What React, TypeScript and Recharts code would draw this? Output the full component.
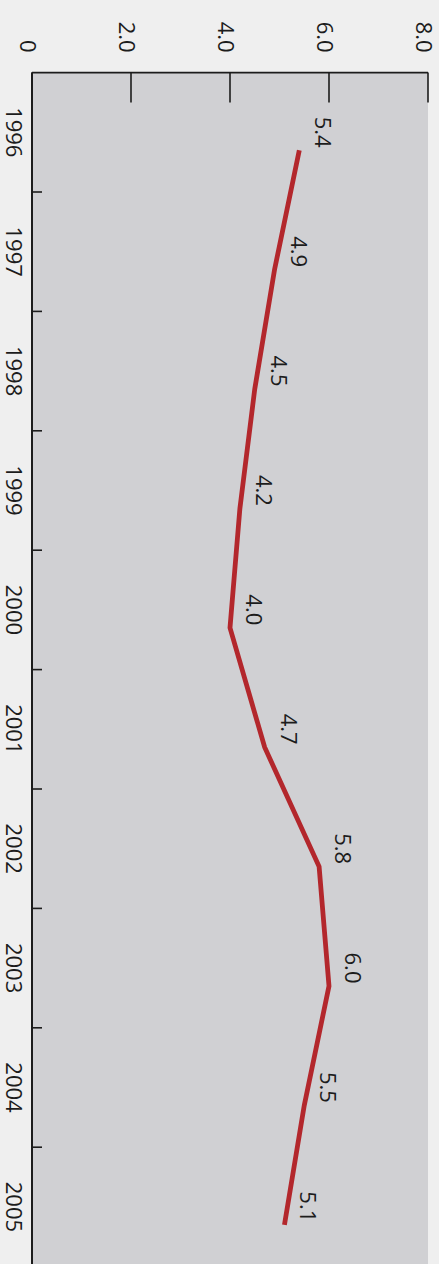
import { LineChart, Line, XAxis, YAxis, CartesianGrid, LabelList } from "recharts";

const YEARS = [1996, 1997, 1998, 1999, 2000, 2001, 2002, 2003, 2004, 2005];
const RATES = [5.4, 4.9, 4.5, 4.2, 4.0, 4.7, 5.8, 6.0, 5.5, 5.1];
const VALUE_TICKS = [0, 2, 4, 6, 8];
const VALUE_TICK_LABELS = ["0", "2.0", "4.0", "6.0", "8.0"];

const data = YEARS.map((year, i) => ({ year, rate: RATES[i] }));

// chart is laid out unrotated, then turned 90deg clockwise
const W = 1270;
const H = 439;
const BAND_HALF = 59.7;
const FONT = "'Open Sans', sans-serif";
const INK = "#1c1c1c";

function YearTick(props: any) {
  const { x, y, payload } = props;
  return (
    <g>
      <line x1={x + BAND_HALF} y1={y} x2={x + BAND_HALF} y2={y - 10} stroke={INK} strokeWidth={1.6} />
      <text x={x} y={y + 17} textAnchor="middle" dominantBaseline="central" fontFamily={FONT} fontSize={22} fill={INK}>
        {payload.value}
      </text>
    </g>
  );
}

function ValueTick(props: any) {
  const { x, y, index } = props;
  return (
    <g>
      <line x1={x} y1={y} x2={x + 30} y2={y} stroke={INK} strokeWidth={1.6} />
      <text x={x - 20} y={y + 3} textAnchor="end" dominantBaseline="central" fontFamily={FONT} fontSize={22} fill={INK}>
        {VALUE_TICK_LABELS[index]}
      </text>
    </g>
  );
}

function RateLabel(props: any) {
  const x = props.x ?? props.viewBox?.x;
  const y = props.y ?? props.viewBox?.y;
  return (
    <text x={x - 18} y={y - 25} textAnchor="middle" dominantBaseline="central" fontFamily={FONT} fontSize={22} fill={INK}>
      {Number(props.value).toFixed(1)}
    </text>
  );
}

export default function App() {
  return (
    <div style={{ position: "fixed", left: 0, top: 0, width: 439, height: 1264, overflow: "hidden", background: "#efefef" }}>
      <div
        style={{
          position: "absolute",
          left: 0,
          top: 0,
          width: W,
          height: H,
          transformOrigin: "0 0",
          transform: `translateX(${H}px) rotate(90deg)`,
        }}
      >
        <LineChart width={W} height={H} data={data} margin={{ top: 11, right: 3.4, bottom: 0, left: 12.6 }}>
          <CartesianGrid xAxisId="yr" horizontal={false} vertical={false} fill="#d0d0d3" stroke="none" />
          <XAxis
            xAxisId="yr"
            dataKey="year"
            type="number"
            domain={[1995.5, 2005.5]}
            ticks={YEARS}
            height={32}
            tickSize={0}
            tickMargin={0}
            tickLine={false}
            axisLine={{ stroke: INK, strokeWidth: 2 }}
            tick={<YearTick />}
            allowDataOverflow
          />
          <XAxis
            xAxisId="pt"
            dataKey="year"
            type="number"
            orientation="top"
            height={0}
            domain={[1995.35, 2005.35]}
            hide
            allowDataOverflow
          />
          <YAxis
            type="number"
            domain={[0, 8]}
            ticks={VALUE_TICKS}
            width={60}
            tickSize={0}
            tickMargin={0}
            tickLine={false}
            axisLine={{ stroke: INK, strokeWidth: 1.6 }}
            tick={<ValueTick />}
          />
          <Line
            xAxisId="pt"
            type="linear"
            dataKey="rate"
            stroke="#b3272c"
            strokeWidth={4.8}
            dot={false}
            isAnimationActive={false}
          >
            <LabelList dataKey="rate" content={<RateLabel />} />
          </Line>
        </LineChart>
      </div>
    </div>
  );
}
